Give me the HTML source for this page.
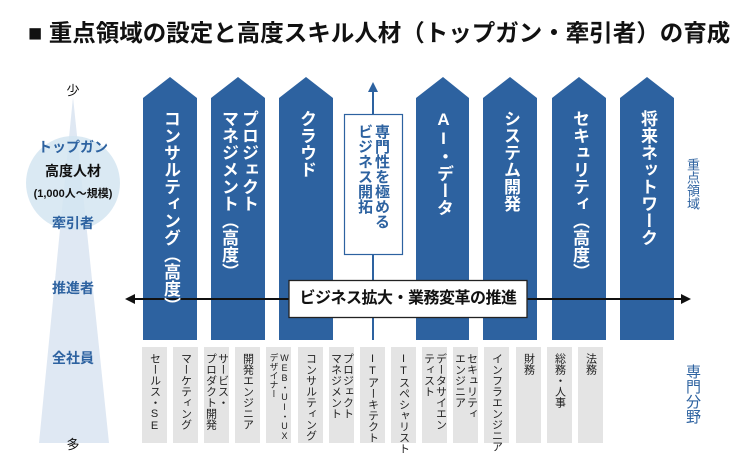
<!DOCTYPE html>
<html><head><meta charset="utf-8"><style>
body{margin:0;width:753px;height:467px;background:#fff;position:relative;overflow:hidden;font-family:"Liberation Sans","Noto Sans CJK JP",sans-serif}
.a{position:absolute}
.v{writing-mode:vertical-rl;text-orientation:upright;white-space:nowrap}
.col{position:absolute;top:110px;color:#fff;font-weight:bold;font-size:17px;line-height:20px;writing-mode:vertical-rl;text-orientation:upright;white-space:nowrap}
.g{position:absolute;top:347px;width:25px;height:96px;background:#e4e4e4;}
.g span{position:absolute;top:6px;left:50%;transform:translateX(-50%);writing-mode:vertical-rl;text-orientation:upright;font-size:11px;line-height:12px;color:#222;white-space:nowrap}
.lb{position:absolute;left:0;width:146px;text-align:center;font-weight:bold}
</style></head><body>
<div class="a" style="left:28px;top:14px;font-size:23.5px;font-weight:bold;color:#111;white-space:nowrap">■ 重点領域の設定と高度スキル人材（トップガン・牽引者）の育成</div>
<svg class="a" style="left:0;top:0" width="753" height="467">
<polygon points="73,97 109,443 39,443" fill="#dfe8f3"/>
<circle cx="73" cy="183" r="47" fill="#d3e5f1" opacity="0.85"/>
<g fill="#2d62a0">
<polygon points="143,98 170,77 197,98 197,340 143,340"/>
<polygon points="211,98 238,77 265,98 265,340 211,340"/>
<polygon points="279,98 306,77 333,98 333,340 279,340"/>
<polygon points="416,98 443,77 469,98 469,340 416,340"/>
<polygon points="483,98 510,77 537,98 537,340 483,340"/>
<polygon points="552,98 579,77 606,98 606,340 552,340"/>
<polygon points="620,98 647,77 674,98 674,340 620,340"/>
</g>
<line x1="373" y1="90" x2="373" y2="340" stroke="#2d62a0" stroke-width="2"/>
<polygon points="373,82 368,92 378,92" fill="#2d62a0"/>
<rect x="344.5" y="114.5" width="58" height="140" fill="#fff" stroke="#2d62a0" stroke-width="1.2"/>
<line x1="132" y1="299" x2="684" y2="299" stroke="#111" stroke-width="2"/>
<polygon points="125,299 135,294 135,304" fill="#111"/>
<polygon points="691,299 681,294 681,304" fill="#111"/>
<rect x="289" y="280.5" width="238" height="37" fill="#fff" stroke="#222" stroke-width="1.3"/>
</svg>
<div class="a" style="left:289px;top:280px;width:238px;height:38px;line-height:38px;text-align:center;font-weight:bold;font-size:16px;color:#111;letter-spacing:-0.5px">ビジネス拡大・業務変革の推進</div>
<div class="a" style="left:344px;top:124px;width:58px;height:130px;display:flex;justify-content:center"><div class="v" style="font-weight:bold;font-size:15px;line-height:17px;color:#2d62a0">専門性を極める<br>ビジネス開拓</div></div>
<div class="col" style="left:160px">コンサルティング（高度）</div>
<div class="col" style="left:218px">プロジェクト<br>マネジメント（高度）</div>
<div class="col" style="left:296px">クラウド</div>
<div class="col" style="left:433px">AI・データ</div>
<div class="col" style="left:500px">システム開発</div>
<div class="col" style="left:569px">セキュリティ（高度）</div>
<div class="col" style="left:637px">将来ネットワーク</div>
<div class="a v" style="left:685px;top:158px;font-size:13px;line-height:14px;color:#2d62a0">重点領域</div>
<div class="a v" style="left:684px;top:364px;font-size:15px;line-height:16px;color:#2d62a0">専門分野</div>
<div class="g" style="left:142px"><span>セールス・SE</span></div>
<div class="g" style="left:173px"><span>マーケティング</span></div>
<div class="g" style="left:204px"><span>サービス・<br>プロダクト開発</span></div>
<div class="g" style="left:235px"><span>開発エンジニア</span></div>
<div class="g" style="left:266px"><span style="font-size:9px;line-height:11px">WEB・UI・UX<br>デザイナー</span></div>
<div class="g" style="left:298px"><span>コンサルティング</span></div>
<div class="g" style="left:329px"><span>プロジェクト<br>マネジメント</span></div>
<div class="g" style="left:360px"><span>ITアーキテクト</span></div>
<div class="g" style="left:391px"><span>ITスペシャリスト</span></div>
<div class="g" style="left:422px"><span>データサイエン<br>ティスト</span></div>
<div class="g" style="left:453px"><span>セキュリティ<br>エンジニア</span></div>
<div class="g" style="left:484px"><span>インフラエンジニア</span></div>
<div class="g" style="left:516px"><span>財務</span></div>
<div class="g" style="left:547px"><span>総務・人事</span></div>
<div class="g" style="left:578px"><span>法務</span></div>
<div class="lb" style="top:80px;font-size:13px;font-weight:normal;color:#111">少</div>
<div class="lb" style="top:137px;font-size:14px;color:#2d62a0">トップガン</div>
<div class="lb" style="top:161px;font-size:14px;color:#111">高度人材</div>
<div class="lb" style="top:185px;font-size:11px;color:#111">(1,000人〜規模)</div>
<div class="lb" style="top:213px;font-size:14px;color:#2d62a0">牽引者</div>
<div class="lb" style="top:278px;font-size:14px;color:#2d62a0">推進者</div>
<div class="lb" style="top:348px;font-size:14px;color:#2d62a0">全社員</div>
<div class="lb" style="top:434px;font-size:13px;font-weight:normal;color:#111">多</div>
</body></html>
